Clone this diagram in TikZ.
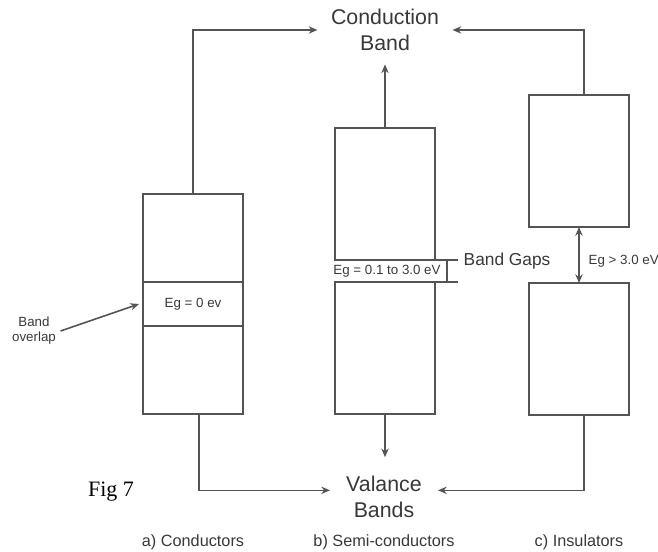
\documentclass[tikz,border=0pt]{standalone}
\usepackage{fontspec}
\setmainfont{Liberation Sans}
\newfontfamily\figfont{Liberation Serif}
\usetikzlibrary{positioning, arrows.meta}
\definecolor{linegray}{gray}{0.33}
\definecolor{textgray}{gray}{0.22}
\tikzstyle{band} = [rectangle, draw=linegray, line width=1.2pt, minimum width=75pt, inner sep=0pt, outer sep=0pt, text=textgray, font=\fontsize{10}{12}\selectfont]
\tikzstyle{title} = [text=textgray, align=center, font=\fontsize{16}{19.5}\selectfont]
\tikzstyle{caption} = [text=textgray, font=\fontsize{12.2}{14}\selectfont]
\tikzstyle{small} = [text=textgray, align=center, font=\fontsize{10}{11.25}\selectfont]
\tikzstyle{line} = [draw=linegray, line width=1.2pt]
\tikzstyle{arrow} = [line, ->, >={Stealth[length=6.5pt, width=5.5pt]}]

\begin{document}
\begin{tikzpicture}[x=0.75pt, y=-0.75pt]
\useasboundingbox (0,0) rectangle (658,552);

%% bands
\node (condup) [band, minimum height=66pt] at (193,238) {};
\node (condgap) [band, minimum height=33pt, below=0pt of condup] {Eg = 0 ev};
\node (condlow) [band, minimum height=66pt, below=0pt of condgap] {};

\node (semiup) [band, minimum height=99pt] at (385,194) {};
\node (semilow) [band, minimum height=99pt, below=16.5pt of semiup] {};

\node (insup) [band, minimum height=99pt] at (579,161) {};
\node (inslow) [band, minimum height=99pt, below=42pt of insup] {};

\node (cb) [title, inner sep=10pt] at (385,30) {Conduction\\Band};
\node (vb) [title, inner xsep=12pt, inner ysep=14pt] at (384,497) {Valance\\Bands};

%% gaps
\node (semigap) [small] at (387,271) {Eg = 0.1 to 3.0 eV};
\draw [line] (semiup.south east) -- ++(23,0);
\draw [line] (semilow.north east) -- ++(23,0);
\draw [line] ([xshift=9pt]semiup.south east) -- ([xshift=9pt]semilow.north east);
\node (bgap) [anchor=west, text=textgray, font=\fontsize{13}{15}\selectfont] at (459,261) {Band Gaps};

\draw [arrow, <->] (insup.south) -- (inslow.north);
\node (insgap) [small, anchor=west] at (584,261) {Eg > 3.0 eV};

\node (ovl) [small] at (34,331) {Band\\overlap};
\draw [arrow] (ovl.east) -- ([xshift=-3pt]condgap.west);

%% arrows
\draw [arrow] (condup.north) |- (cb.west);
\draw [arrow] ([xshift=3.75pt]insup.north) |- (cb.east);
\draw [arrow] (semiup.north) -- (cb.south);
\draw [arrow] (semilow.south) -- (semilow.south |- vb.north);
\draw [arrow] ([xshift=4.5pt]condlow.south) |- ([yshift=5pt]vb.west);
\draw [arrow] ([xshift=3.75pt]inslow.south) |- ([yshift=5pt]vb.east);

%% captions
\node (capa) [caption] at (193,542) {a) Conductors};
\node (capb) [caption] at (384,542) {b) Semi-conductors};
\node (capc) [caption] at (579,542) {c) Insulators};
\node (fig) [font=\figfont\fontsize{16.5}{18}\selectfont] at (111,492) {Fig 7};

\end{tikzpicture}
\end{document}
